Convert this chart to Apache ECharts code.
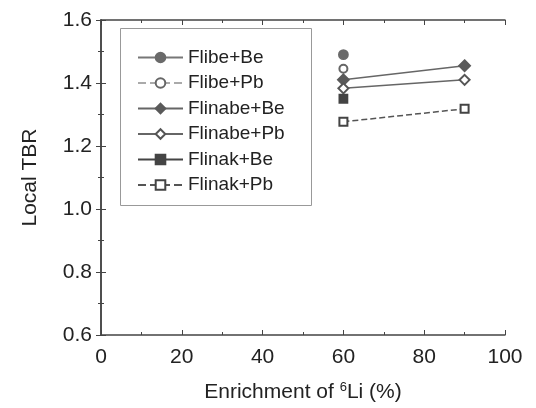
<!DOCTYPE html>
<html><head><meta charset="utf-8">
<script src="https://cdn.jsdelivr.net/npm/echarts@6/dist/echarts.min.js"></script>
<style>html,body{margin:0;padding:0;background:#fff}#c{width:536px;height:408px}</style>
</head><body><div id="c"></div>
<script>
const seriesNames = ['Flibe+Be','Flibe+Pb','Flinabe+Be','Flinabe+Pb','Flinak+Be','Flinak+Pb'];
const enrichment = [60, 90];
const flibeBe = [1.49, null];
const flibePb = [1.445, null];
const flinabeBe = [1.41, 1.455];
const flinabePb = [1.383, 1.41];
const flinakBe = [1.35, null];
const flinakPb = [1.277, 1.318];
const xTicks = [0,20,40,60,80,100];
const yTicks = [0.6,0.8,1.0,1.2,1.4,1.6];

const font = 'Liberation Sans, Arial, sans-serif';
function pts(vals){ return enrichment.map((x,i)=> vals[i]==null? null : [x, vals[i]]).filter(p=>p); }
const styles = [
  {sym:'circle', size:9, color:'#6a6a6a', line:'solid', lc:'#777'},
  {sym:'emptyCircle', size:8, color:'#666', line:'dashed', lc:'#aaa'},
  {sym:'diamond', size:11, color:'#5a5a5a', line:'solid', lc:'#666'},
  {sym:'emptyDiamond', size:10, color:'#555', line:'solid', lc:'#666'},
  {sym:'rect', size:8, color:'#444', line:'solid', lc:'#444'},
  {sym:'emptyRect', size:8, color:'#444', line:'dashed', lc:'#555'}
];
const data = [flibeBe, flibePb, flinabeBe, flinabePb, flinakBe, flinakPb];
const series = seriesNames.map((n,i)=>({
  name:n, type:'line', xAxisIndex:0, yAxisIndex:0,
  data: pts(data[i]),
  symbol: styles[i].sym, symbolSize: styles[i].size,
  showSymbol:true,
  itemStyle:{color: styles[i].color, borderWidth: 1.8, borderColor: styles[i].color},
  lineStyle:{color: styles[i].lc, width:1.5, type: styles[i].line},
  emphasis:{disabled:true}, animation:false
}));
const axisCommon = {
  type:'value', axisLine:{show:true, lineStyle:{color:'#444', width:1.5}},
  axisTick:{show:true, inside:true, length:5, lineStyle:{color:'#444'}},
  minorTick:{show:true, splitNumber:2, length:3, lineStyle:{color:'#444'}},
  splitLine:{show:false}
};
const chart = echarts.init(document.getElementById('c'));
chart.setOption({
  animation:false,
  grid:{left:101, top:20, right:31, bottom:72, containLabel:false},
  graphic:[{type:'rect', shape:{x:120.5, y:28.5, width:191, height:177}, style:{fill:'none', stroke:'#999', lineWidth:1}, z:100}],
  legend:{
    orient:'vertical', left:121, top:28,
    padding:[20,10,10,16], itemGap:6.5, itemWidth:45, itemHeight:12,
    textStyle:{fontFamily:font, fontSize:19, lineHeight:19, color:'#222'},
    data: seriesNames
  },
  xAxis:[
    Object.assign({}, axisCommon, {min:0, max:100, interval:20, position:'bottom',
      axisLabel:{fontFamily:font, fontSize:21, color:'#222', margin:12, formatter:v=>String(v)},
      name:'{a|Enrichment of }{s|6}{a|Li (%)}', nameLocation:'middle', nameGap:46,
      nameTextStyle:{rich:{a:{fontFamily:font, fontSize:21, color:'#222'}, s:{fontFamily:font, fontSize:13, color:'#222', verticalAlign:'top', padding:[0,0,10,0]}}}
    }),
    Object.assign({}, axisCommon, {min:0, max:100, interval:20, position:'top', axisLabel:{show:false}})
  ],
  yAxis:[
    Object.assign({}, axisCommon, {min:0.6, max:1.6, interval:0.2, position:'left',
      axisLabel:{fontFamily:font, fontSize:21, color:'#222', margin:9, formatter:v=>v.toFixed(1)},
      name:'Local TBR', nameLocation:'middle', nameGap:60,
      nameTextStyle:{fontFamily:font, fontSize:21, color:'#222'}
    }),
    Object.assign({}, axisCommon, {min:0.6, max:1.6, interval:0.2, position:'right', axisLabel:{show:false}})
  ],
  series: series
});
</script></body></html>
